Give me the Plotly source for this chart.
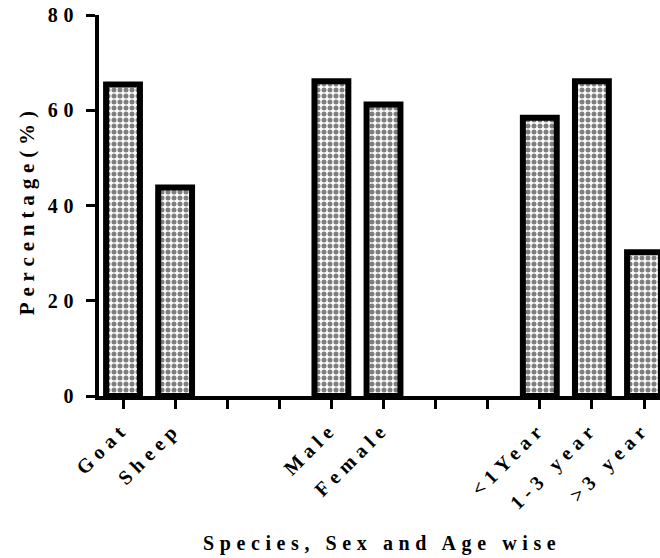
import plotly.graph_objects as go

categories = ["Goat", "Sheep", "", "", "Male", "Female", "", "", "<1Year", "1-3 year", ">3 year"]
values = [65.4, 43.8, None, None, 66.1, 61.2, None, None, 58.4, 66.1, 30.2]
y_ticks = [0, 20, 40, 60, 80]
x_title = "Species, Sex and Age wise"
y_title = "Percentage(%)"

positions = list(range(len(categories)))
FONT = "Liberation Serif"

fig = go.Figure()
fig.add_trace(go.Bar(
    x=positions,
    y=values,
    width=0.65,
    marker=dict(
        color="white",
        line=dict(color="black", width=6),
        pattern=dict(shape=".", fgcolor="black", bgcolor="white", size=6, solidity=0.55),
    ),
    showlegend=False,
))

fig.update_layout(
    width=660, height=558,
    margin=dict(l=99, r=0, t=15, b=162, autoexpand=False),
    paper_bgcolor="white", plot_bgcolor="white",
    font=dict(family=FONT, color="black", size=20, weight="bold"),
    xaxis=dict(
        range=[-0.461, 10.307],
        tickmode="array", tickvals=positions, ticktext=categories,
        tickangle=-45,
        showline=True, linecolor="black", linewidth=4,
        ticks="outside", ticklen=9, tickwidth=3, tickcolor="black",
        showgrid=False, zeroline=False, automargin=False,
        tickfont=dict(family=FONT, size=20, weight="bold"),
        ticklabeloverflow="allow",
    ),
    yaxis=dict(
        range=[0, 80],
        tickmode="array", tickvals=y_ticks,
        showline=True, linecolor="black", linewidth=4,
        ticks="outside", ticklen=9, tickwidth=3, tickcolor="black",
        showgrid=False, zeroline=False, automargin=False,
        tickfont=dict(family=FONT, size=20, weight="bold"),
        ticklabelstandoff=3,
        ticklabeloverflow="allow",
    ),
    annotations=[
        dict(
            text=x_title,
            xref="paper", yref="paper", x=0.5036, y=0, yshift=-147,
            xanchor="center", yanchor="middle", showarrow=False,
            font=dict(family=FONT, size=20, weight="bold"),
        ),
        dict(
            text=y_title, textangle=-90,
            xref="paper", yref="paper", x=0, y=0.488, xshift=-72,
            xanchor="center", yanchor="middle", showarrow=False,
            font=dict(family=FONT, size=21, weight="bold"),
        ),
    ],
)

css_js = (
    "document.body.style.margin='0';"
    "var s=document.createElement('style');"
    "s.textContent='.main-svg text{letter-spacing:0.28em;}';"
    "document.head.appendChild(s);"
)
fig.write_html("out.html", post_script=css_js, config={"displayModeBar": False})
